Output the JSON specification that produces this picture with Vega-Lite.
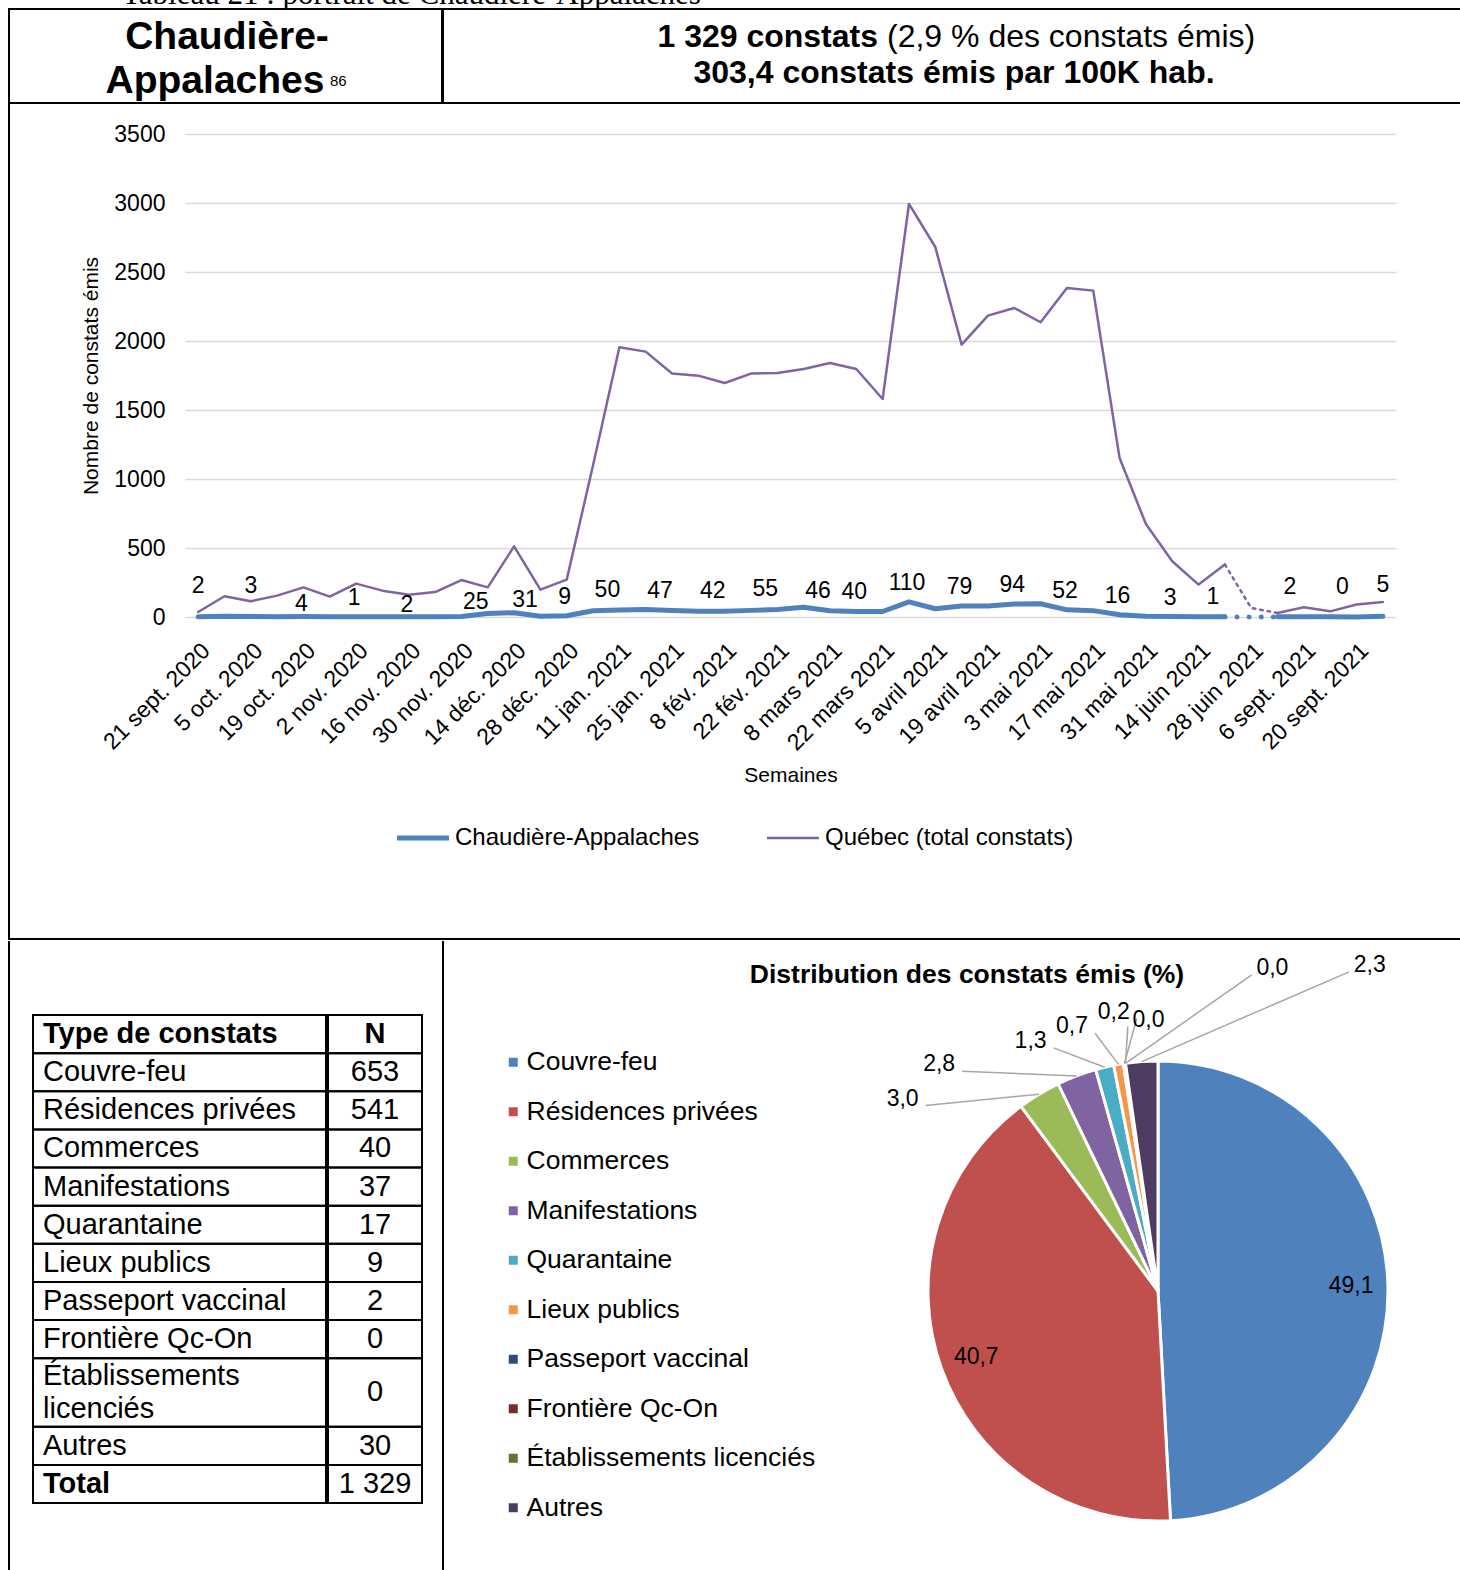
{
"$schema": "https://vega.github.io/schema/vega-lite/v6.json",
"background": "white",
"padding": {"left": 8, "top": 0, "right": 0, "bottom": 0},
"spacing": 0,
"resolve": {"scale": {"color": "independent", "x": "independent", "y": "independent"}, "legend": {"color": "independent"}},
"config": {
  "view": {"stroke": null},
  "font": "Liberation Sans",
  "text": {"font": "Liberation Sans", "color": "black"},
  "axis": {"labelFont": "Liberation Sans", "titleFont": "Liberation Sans"},
  "legend": {"labelFont": "Liberation Sans"},
  "title": {"font": "Liberation Sans"}
},
"datasets": {
  "semaines": [
    {"semaine":"21 sept. 2020","Chaudière-Appalaches":2,"Québec (total constats)":36},
    {"semaine":"28 sept. 2020","Chaudière-Appalaches":5,"Québec (total constats)":150},
    {"semaine":"5 oct. 2020","Chaudière-Appalaches":3,"Québec (total constats)":114},
    {"semaine":"12 oct. 2020","Chaudière-Appalaches":2,"Québec (total constats)":155},
    {"semaine":"19 oct. 2020","Chaudière-Appalaches":4,"Québec (total constats)":215},
    {"semaine":"26 oct. 2020","Chaudière-Appalaches":2,"Québec (total constats)":148},
    {"semaine":"2 nov. 2020","Chaudière-Appalaches":1,"Québec (total constats)":242},
    {"semaine":"9 nov. 2020","Chaudière-Appalaches":2,"Québec (total constats)":191},
    {"semaine":"16 nov. 2020","Chaudière-Appalaches":2,"Québec (total constats)":162},
    {"semaine":"23 nov. 2020","Chaudière-Appalaches":1,"Québec (total constats)":181},
    {"semaine":"30 nov. 2020","Chaudière-Appalaches":3,"Québec (total constats)":268},
    {"semaine":"7 déc. 2020","Chaudière-Appalaches":25,"Québec (total constats)":215},
    {"semaine":"14 déc. 2020","Chaudière-Appalaches":31,"Québec (total constats)":512},
    {"semaine":"21 déc. 2020","Chaudière-Appalaches":5,"Québec (total constats)":198},
    {"semaine":"28 déc. 2020","Chaudière-Appalaches":9,"Québec (total constats)":271},
    {"semaine":"4 jan. 2021","Chaudière-Appalaches":45,"Québec (total constats)":1100},
    {"semaine":"11 jan. 2021","Chaudière-Appalaches":50,"Québec (total constats)":1954},
    {"semaine":"18 jan. 2021","Chaudière-Appalaches":55,"Québec (total constats)":1923},
    {"semaine":"25 jan. 2021","Chaudière-Appalaches":47,"Québec (total constats)":1764},
    {"semaine":"1 fév. 2021","Chaudière-Appalaches":42,"Québec (total constats)":1749},
    {"semaine":"8 fév. 2021","Chaudière-Appalaches":42,"Québec (total constats)":1696},
    {"semaine":"15 fév. 2021","Chaudière-Appalaches":48,"Québec (total constats)":1764},
    {"semaine":"22 fév. 2021","Chaudière-Appalaches":55,"Québec (total constats)":1768},
    {"semaine":"1 mars 2021","Chaudière-Appalaches":70,"Québec (total constats)":1797},
    {"semaine":"8 mars 2021","Chaudière-Appalaches":46,"Québec (total constats)":1841},
    {"semaine":"15 mars 2021","Chaudière-Appalaches":40,"Québec (total constats)":1797},
    {"semaine":"22 mars 2021","Chaudière-Appalaches":40,"Québec (total constats)":1580},
    {"semaine":"29 mars 2021","Chaudière-Appalaches":110,"Québec (total constats)":2993},
    {"semaine":"5 avril 2021","Chaudière-Appalaches":60,"Québec (total constats)":2681},
    {"semaine":"12 avril 2021","Chaudière-Appalaches":79,"Québec (total constats)":1974},
    {"semaine":"19 avril 2021","Chaudière-Appalaches":80,"Québec (total constats)":2184},
    {"semaine":"26 avril 2021","Chaudière-Appalaches":94,"Québec (total constats)":2239},
    {"semaine":"3 mai 2021","Chaudière-Appalaches":96,"Québec (total constats)":2136},
    {"semaine":"10 mai 2021","Chaudière-Appalaches":52,"Québec (total constats)":2384},
    {"semaine":"17 mai 2021","Chaudière-Appalaches":46,"Québec (total constats)":2365},
    {"semaine":"24 mai 2021","Chaudière-Appalaches":16,"Québec (total constats)":1152},
    {"semaine":"31 mai 2021","Chaudière-Appalaches":5,"Québec (total constats)":674},
    {"semaine":"7 juin 2021","Chaudière-Appalaches":3,"Québec (total constats)":404},
    {"semaine":"14 juin 2021","Chaudière-Appalaches":2,"Québec (total constats)":235},
    {"semaine":"21 juin 2021","Chaudière-Appalaches":1,"Québec (total constats)":380},
    {"semaine":"28 juin 2021","Chaudière-Appalaches":0,"Québec (total constats)":65},
    {"semaine":"30 août 2021","Chaudière-Appalaches":1,"Québec (total constats)":29},
    {"semaine":"6 sept. 2021","Chaudière-Appalaches":2,"Québec (total constats)":70},
    {"semaine":"13 sept. 2021","Chaudière-Appalaches":1,"Québec (total constats)":41},
    {"semaine":"20 sept. 2021","Chaudière-Appalaches":0,"Québec (total constats)":90},
    {"semaine":"27 sept. 2021","Chaudière-Appalaches":5,"Québec (total constats)":109}
  ],
  "types": [
    {"type":"Couvre-feu","n":653},
    {"type":"Résidences privées","n":541},
    {"type":"Commerces","n":40},
    {"type":"Manifestations","n":37},
    {"type":"Quarantaine","n":17},
    {"type":"Lieux publics","n":9},
    {"type":"Passeport vaccinal","n":2},
    {"type":"Frontière Qc-On","n":0},
    {"type":"Établissements licenciés","n":0},
    {"type":"Autres","n":30}
  ]
},
"vconcat": [
  {"width": 1453, "height": 8,
   "data": {"values": [{"legende": "Tableau 21 : portrait de Chaudière-Appalaches"}]},
   "mark": {"type": "text", "clip": true, "font": "Liberation Serif", "fontSize": 31, "align": "left", "baseline": "alphabetic", "x": 113, "y": 4},
   "encoding": {"text": {"field": "legende"}}},
  {"hconcat": [
    {"width": 433, "height": 94, "view": {"stroke": "black", "strokeWidth": 2},
     "data": {"values": [{}]},
     "layer": [
       {"mark": {"type": "text", "text": "Chaudière-", "fontSize": 39, "fontWeight": "bold", "align": "center", "baseline": "middle", "x": 218, "y": 28}, "encoding": {}},
       {"mark": {"type": "text", "text": "Appalaches", "fontSize": 39, "fontWeight": "bold", "align": "center", "baseline": "middle", "x": 206, "y": 72}, "encoding": {}},
       {"mark": {"type": "text", "text": "86", "fontSize": 15, "align": "left", "baseline": "middle", "x": 321, "y": 72}, "encoding": {}}
     ]},
    {"width": 1020, "height": 94, "view": {"stroke": "black", "strokeWidth": 2},
     "data": {"values": [{}]},
     "layer": [
       {"mark": {"type": "text", "text": "1 329 constats", "fontSize": 32, "fontWeight": "bold", "align": "right", "baseline": "middle", "x": 435, "y": 28}, "encoding": {}},
       {"mark": {"type": "text", "text": "(2,9 % des constats émis)", "fontSize": 32, "align": "left", "baseline": "middle", "x": 444, "y": 28}, "encoding": {}},
       {"mark": {"type": "text", "text": "303,4 constats émis par 100K hab.", "fontSize": 32, "fontWeight": "bold", "align": "center", "baseline": "middle", "x": 511, "y": 64}, "encoding": {}}
     ]}
  ], "spacing": -2, "resolve": {"legend": {"color": "independent"}}},
  {"hconcat": [
    {"width": 0.01, "height": 832, "view": {"stroke": "black", "strokeWidth": 2}, "data": {"values": []}, "mark": {"type": "text", "text": ""}, "encoding": {}},
    {"width": 69, "height": 832, "data": {"values": []}, "mark": {"type": "text", "text": ""}, "encoding": {}},
    {"vconcat": [
      {"width": 1211, "height": 18, "data": {"values": []}, "mark": {"type": "text", "text": ""}, "encoding": {}},
      {"width": 1211, "height": 483,
       "data": {"name": "semaines"},
       "transform": [
         {"window": [{"op": "row_number", "as": "i"}]},
         {"fold": ["Chaudière-Appalaches", "Québec (total constats)"], "as": ["serie", "constats"]}
       ],
       "encoding": {
         "x": {"field": "semaine", "type": "ordinal",
               "scale": {"type": "point", "padding": 0.5, "domain": ["21 sept. 2020","28 sept. 2020","5 oct. 2020","12 oct. 2020","19 oct. 2020","26 oct. 2020","2 nov. 2020","9 nov. 2020","16 nov. 2020","23 nov. 2020","30 nov. 2020","7 déc. 2020","14 déc. 2020","21 déc. 2020","28 déc. 2020","4 jan. 2021","11 jan. 2021","18 jan. 2021","25 jan. 2021","1 fév. 2021","8 fév. 2021","15 fév. 2021","22 fév. 2021","1 mars 2021","8 mars 2021","15 mars 2021","22 mars 2021","29 mars 2021","5 avril 2021","12 avril 2021","19 avril 2021","26 avril 2021","3 mai 2021","10 mai 2021","17 mai 2021","24 mai 2021","31 mai 2021","7 juin 2021","14 juin 2021","21 juin 2021","28 juin 2021","30 août 2021","6 sept. 2021","13 sept. 2021","20 sept. 2021","27 sept. 2021"]},
               "axis": {"values": ["21 sept. 2020","5 oct. 2020","19 oct. 2020","2 nov. 2020","16 nov. 2020","30 nov. 2020","14 déc. 2020","28 déc. 2020","11 jan. 2021","25 jan. 2021","8 fév. 2021","22 fév. 2021","8 mars 2021","22 mars 2021","5 avril 2021","19 avril 2021","3 mai 2021","17 mai 2021","31 mai 2021","14 juin 2021","28 juin 2021","6 sept. 2021","20 sept. 2021"],
                        "labelAngle": -45, "labelFontSize": 23, "labelColor": "black", "labelPadding": 22, "labelOverlap": false, "labelBound": false,
                        "domain": false, "ticks": false, "grid": false,
                        "title": "Semaines", "titleFontSize": 21, "titleFontWeight": "normal", "titleColor": "black", "titlePadding": 10}},
         "y": {"field": "constats", "type": "quantitative",
               "scale": {"domain": [0, 3500], "nice": false},
               "axis": {"values": [0, 500, 1000, 1500, 2000, 2500, 3000, 3500], "format": "d",
                        "labelFontSize": 23, "labelColor": "black", "labelPadding": 20,
                        "domain": false, "ticks": false, "gridColor": "#d9d9d9", "gridWidth": 1.5,
                        "title": "Nombre de constats émis", "titleFontSize": 21, "titleFontWeight": "normal", "titleColor": "black", "titlePadding": 12}}
       },
       "layer": [
         {"transform": [
            {"filter": "datum.semaine !== '28 juin 2021'"},
            {"calculate": "datum.i <= 40 ? 'avant été' : 'après été'", "as": "periode"}
          ],
          "mark": {"type": "line", "strokeJoin": "round", "strokeCap": "round"},
          "encoding": {
            "color": {"field": "serie", "type": "nominal",
                      "scale": {"domain": ["Chaudière-Appalaches", "Québec (total constats)"], "range": ["#4f81bd", "#8064a2"]},
                      "legend": {"orient": "none", "legendX": 226, "legendY": 692, "direction": "horizontal", "title": null, "symbolType": "stroke", "symbolSize": 2704, "labelFontSize": 24, "labelColor": "black", "labelLimit": 500, "columnPadding": 62, "labelOffset": 20, "padding": 0,
                                 "encode": {"symbols": {"update": {"strokeWidth": {"signal": "datum.value === 'Chaudière-Appalaches' ? 5 : 2.5"}}}}}},
            "strokeWidth": {"field": "serie", "type": "nominal",
                      "scale": {"domain": ["Chaudière-Appalaches", "Québec (total constats)"], "range": [5, 2.5]},
                      "legend": null},
            "detail": {"field": "periode", "type": "nominal"}
          }},
         {"transform": [
            {"filter": {"field": "semaine", "oneOf": ["21 juin 2021", "28 juin 2021", "30 août 2021"]}},
            {"filter": {"field": "serie", "equal": "Chaudière-Appalaches"}}
          ],
          "mark": {"type": "line", "color": "#4f81bd", "strokeWidth": 5, "strokeDash": [0.1, 12], "strokeCap": "round"},
          "encoding": {}},
         {"transform": [
            {"filter": {"field": "semaine", "oneOf": ["21 juin 2021", "28 juin 2021", "30 août 2021"]}},
            {"filter": {"field": "serie", "equal": "Québec (total constats)"}}
          ],
          "mark": {"type": "line", "color": "#8064a2", "strokeWidth": 2.5, "strokeDash": [2.5, 5], "strokeCap": "round"},
          "encoding": {}},
         {"transform": [
            {"filter": {"field": "serie", "equal": "Chaudière-Appalaches"}},
            {"filter": {"field": "semaine", "oneOf": ["21 sept. 2020","5 oct. 2020","27 sept. 2021"]}}
          ],
          "mark": {"type": "text", "fontSize": 23, "baseline": "middle", "dy": -31, "color": "black"},
          "encoding": {"text": {"field": "constats", "type": "quantitative", "format": "d"}}},
         {"transform": [
            {"filter": {"field": "serie", "equal": "Chaudière-Appalaches"}},
            {"filter": {"field": "semaine", "oneOf": ["6 sept. 2021","20 sept. 2021"]}}
          ],
          "mark": {"type": "text", "fontSize": 23, "baseline": "middle", "dy": -30, "dx": -14, "color": "black"},
          "encoding": {"text": {"field": "constats", "type": "quantitative", "format": "d"}}},
         {"transform": [
            {"filter": {"field": "serie", "equal": "Chaudière-Appalaches"}},
            {"filter": {"field": "semaine", "oneOf": ["19 oct. 2020","16 nov. 2020"]}}
          ],
          "mark": {"type": "text", "fontSize": 23, "baseline": "middle", "dy": -12, "dx": -2, "color": "black"},
          "encoding": {"text": {"field": "constats", "type": "quantitative", "format": "d"}}},
         {"transform": [
            {"filter": {"field": "serie", "equal": "Chaudière-Appalaches"}},
            {"filter": {"field": "semaine", "equal": "7 déc. 2020"}}
          ],
          "mark": {"type": "text", "fontSize": 23, "baseline": "middle", "dy": -12, "dx": -12, "color": "black"},
          "encoding": {"text": {"field": "constats", "type": "quantitative", "format": "d"}}},
         {"transform": [
            {"filter": {"field": "serie", "equal": "Chaudière-Appalaches"}},
            {"filter": {"field": "semaine", "equal": "14 déc. 2020"}}
          ],
          "mark": {"type": "text", "fontSize": 23, "baseline": "middle", "dy": -13, "dx": 11, "color": "black"},
          "encoding": {"text": {"field": "constats", "type": "quantitative", "format": "d"}}},
         {"transform": [
            {"filter": {"field": "serie", "equal": "Chaudière-Appalaches"}},
            {"filter": {"field": "semaine", "oneOf": ["11 jan. 2021","25 jan. 2021","8 fév. 2021","22 fév. 2021","8 mars 2021","21 juin 2021"]}}
          ],
          "mark": {"type": "text", "fontSize": 23, "baseline": "middle", "dy": -20, "dx": -12, "color": "black"},
          "encoding": {"text": {"field": "constats", "type": "quantitative", "format": "d"}}},
         {"transform": [
            {"filter": {"field": "serie", "equal": "Chaudière-Appalaches"}},
            {"filter": {"field": "semaine", "oneOf": ["2 nov. 2020","28 déc. 2020","15 mars 2021","29 mars 2021","12 avril 2021","26 avril 2021","10 mai 2021","24 mai 2021","7 juin 2021"]}}
          ],
          "mark": {"type": "text", "fontSize": 23, "baseline": "middle", "dy": -19, "dx": -2, "color": "black"},
          "encoding": {"text": {"field": "constats", "type": "quantitative", "format": "d"}}}
       ]}
    ], "spacing": 0, "resolve": {"legend": {"color": "independent"}}}
  ], "spacing": 0, "resolve": {"legend": {"color": "independent"}}},
  {"width": 1453, "height": 0.01, "view": {"stroke": "black", "strokeWidth": 2}, "data": {"values": []}, "mark": {"type": "text", "text": ""}, "encoding": {}},
  {"hconcat": [
    {"width": 0.01, "height": 633, "view": {"stroke": "black", "strokeWidth": 2}, "data": {"values": []}, "mark": {"type": "text", "text": ""}, "encoding": {}},
    {"vconcat": [
      {"width": 431, "height": 72, "data": {"values": []}, "mark": {"type": "text", "text": ""}, "encoding": {}},
      {"hconcat": [
        {"width": 21, "height": 488, "data": {"values": []}, "mark": {"type": "text", "text": ""}, "encoding": {}},
        {"width": 293, "height": 488,
         "data": {"name": "types"},
         "transform": [
           {"calculate": "length(datum.type) > 20 ? 1.8 : 1", "as": "haut"},
           {"window": [{"op": "sum", "field": "haut", "as": "cumul"}], "frame": [null, 0]},
           {"calculate": "datum.cumul + 1", "as": "fin"},
           {"calculate": "datum.fin - datum.haut", "as": "debut"},
           {"calculate": "(datum.debut + datum.fin) / 2 - (datum.haut > 1 ? 0.43 : 0)", "as": "milieu"},
           {"calculate": "datum.haut > 1 ? split(datum.type, ' ') : datum.type", "as": "libelle"}
         ],
         "layer": [
           {"mark": {"type": "rect", "filled": false, "stroke": "black", "strokeWidth": 2},
            "encoding": {"x": {"value": 0}, "x2": {"value": "width"},
                         "y": {"field": "debut", "type": "quantitative", "scale": {"domain": [0, 12.8], "reverse": true, "nice": false, "zero": false}, "axis": null},
                         "y2": {"field": "fin"}}},
           {"mark": {"type": "text", "align": "left", "baseline": "middle", "fontSize": 29, "lineHeight": 33, "x": 10},
            "encoding": {"y": {"field": "milieu", "type": "quantitative"}, "text": {"field": "libelle"}}},
           {"transform": [{"aggregate": [{"op": "sum", "field": "n", "as": "total"}, {"op": "max", "field": "fin", "as": "debut"}]},
                          {"calculate": "datum.debut + 1", "as": "fin"},
                          {"calculate": "datum.debut + 0.5", "as": "milieu"}],
            "layer": [
              {"mark": {"type": "rect", "filled": false, "stroke": "black", "strokeWidth": 2},
               "encoding": {"x": {"value": 0}, "x2": {"value": "width"}, "y": {"field": "debut", "type": "quantitative"}, "y2": {"field": "fin"}}},
              {"mark": {"type": "text", "text": "Total", "fontWeight": "bold", "align": "left", "baseline": "middle", "fontSize": 29, "x": 10},
               "encoding": {"y": {"field": "milieu", "type": "quantitative"}}},
              {"mark": {"type": "rect", "filled": false, "stroke": "black", "strokeWidth": 2},
               "encoding": {"x": {"value": 0}, "x2": {"value": "width"}, "y": {"datum": 0, "type": "quantitative"}, "y2": {"datum": 1}}},
              {"mark": {"type": "text", "text": "Type de constats", "fontWeight": "bold", "align": "left", "baseline": "middle", "fontSize": 29, "x": 10},
               "encoding": {"y": {"datum": 0.5, "type": "quantitative"}}}
            ]}
         ]},
        {"width": 94, "height": 488,
         "data": {"name": "types"},
         "transform": [
           {"calculate": "length(datum.type) > 20 ? 1.8 : 1", "as": "haut"},
           {"window": [{"op": "sum", "field": "haut", "as": "cumul"}], "frame": [null, 0]},
           {"calculate": "datum.cumul + 1", "as": "fin"},
           {"calculate": "datum.fin - datum.haut", "as": "debut"},
           {"calculate": "(datum.debut + datum.fin) / 2", "as": "milieu"}
         ],
         "layer": [
           {"mark": {"type": "rect", "filled": false, "stroke": "black", "strokeWidth": 2},
            "encoding": {"x": {"value": 0}, "x2": {"value": "width"},
                         "y": {"field": "debut", "type": "quantitative", "scale": {"domain": [0, 12.8], "reverse": true, "nice": false, "zero": false}, "axis": null},
                         "y2": {"field": "fin"}}},
           {"mark": {"type": "text", "align": "center", "baseline": "middle", "fontSize": 29, "x": 47},
            "encoding": {"y": {"field": "milieu", "type": "quantitative"}, "text": {"field": "n", "type": "quantitative", "format": "d"}}},
           {"transform": [{"aggregate": [{"op": "sum", "field": "n", "as": "total"}, {"op": "max", "field": "fin", "as": "debut"}]},
                          {"calculate": "datum.debut + 1", "as": "fin"},
                          {"calculate": "datum.debut + 0.5", "as": "milieu"},
                          {"calculate": "replace(format(datum.total, ','), ',', ' ')", "as": "totalTexte"}],
            "layer": [
              {"mark": {"type": "rect", "filled": false, "stroke": "black", "strokeWidth": 2},
               "encoding": {"x": {"value": 0}, "x2": {"value": "width"}, "y": {"field": "debut", "type": "quantitative"}, "y2": {"field": "fin"}}},
              {"mark": {"type": "text", "align": "center", "baseline": "middle", "fontSize": 29, "x": 47},
               "encoding": {"y": {"field": "milieu", "type": "quantitative"}, "text": {"field": "totalTexte"}}},
              {"mark": {"type": "rect", "filled": false, "stroke": "black", "strokeWidth": 2},
               "encoding": {"x": {"value": 0}, "x2": {"value": "width"}, "y": {"datum": 0, "type": "quantitative"}, "y2": {"datum": 1}}},
              {"mark": {"type": "text", "text": "N", "fontWeight": "bold", "align": "center", "baseline": "middle", "fontSize": 29, "x": 47},
               "encoding": {"y": {"datum": 0.5, "type": "quantitative"}}}
            ]}
         ]}
      ], "spacing": 0},
      {"width": 431, "height": 69, "data": {"values": []}, "mark": {"type": "text", "text": ""}, "encoding": {}}
    ], "spacing": 0},
    {"width": 0.01, "height": 633, "view": {"stroke": "black", "strokeWidth": 2}, "data": {"values": []}, "mark": {"type": "text", "text": ""}, "encoding": {}},
    {"width": 1018, "height": 633,
     "data": {"name": "types"},
     "transform": [
       {"window": [{"op": "row_number", "as": "rang"}, {"op": "sum", "field": "n", "as": "cumul"}], "frame": [null, 0]},
       {"joinaggregate": [{"op": "sum", "field": "n", "as": "total"}]},
       {"calculate": "100 * datum.n / datum.total", "as": "pct"},
       {"calculate": "replace(format(datum.pct, '.1f'), '.', ',')", "as": "etiquette"},
       {"calculate": "2 * PI * (datum.cumul - datum.n / 2) / datum.total", "as": "milieu"},
       {"calculate": "sin(datum.milieu)", "as": "bordX"},
       {"calculate": "cos(datum.milieu)", "as": "bordY"}
     ],
     "layer": [
       {"mark": {"type": "arc", "stroke": "white", "strokeWidth": 3, "outerRadius": 230},
        "encoding": {
          "x": {"datum": 0, "type": "quantitative", "scale": {"domain": [-3.1, 1.3261], "nice": false, "zero": false}, "axis": null},
          "y": {"datum": 0, "type": "quantitative", "scale": {"domain": [-1.2348, 1.5174], "nice": false, "zero": false}, "axis": null},
          "theta": {"field": "n", "type": "quantitative", "stack": true},
          "order": {"field": "rang", "type": "quantitative"},
          "color": {"field": "type", "type": "nominal",
                    "scale": {"domain": ["Couvre-feu","Résidences privées","Commerces","Manifestations","Quarantaine","Lieux publics","Passeport vaccinal","Frontière Qc-On","Établissements licenciés","Autres"],
                              "range": ["#4f81bd","#c0504d","#9bbb59","#8064a2","#4bacc6","#f79646","#2c4d75","#772c2a","#5f7530","#4d3b62"]},
                    "legend": {"orient": "none", "legendX": 55, "legendY": 107, "direction": "vertical", "title": null, "symbolType": "square", "symbolSize": 81, "symbolStrokeWidth": 0, "labelFontSize": 26.5, "labelColor": "black", "labelLimit": 500, "rowPadding": 22.5, "labelOffset": 0, "padding": 0}}
        }},
       {"data": {"values": [{}]},
        "mark": {"type": "text", "text": "Distribution des constats émis (%)", "fontSize": 26.5, "fontWeight": "bold", "align": "center", "baseline": "middle", "x": 522, "y": 33},
        "encoding": {}},
       {"transform": [{"filter": "datum.pct >= 10"},
                      {"calculate": "0.84 * datum.bordX", "as": "intX"},
                      {"calculate": "0.84 * datum.bordY", "as": "intY"}],
        "mark": {"type": "text", "fontSize": 23, "align": "center", "baseline": "middle"},
        "encoding": {
          "x": {"field": "intX", "type": "quantitative"},
          "y": {"field": "intY", "type": "quantitative"},
          "text": {"field": "etiquette"}
        }},
       {"transform": [{"filter": "datum.pct < 10"},
                      {"calculate": "datum.rang - 3", "as": "k"},
                      {"calculate": "[307, 316, 333, 342, 351, 358, 379.5, 393][datum.k] * PI / 180", "as": "angEt"},
                      {"calculate": "[1.39, 1.37, 1.22, 1.21, 1.23, 1.18, 1.49, 1.69][datum.k]", "as": "rEt"},
                      {"calculate": "datum.rEt * sin(datum.angEt)", "as": "etX"},
                      {"calculate": "datum.rEt * cos(datum.angEt)", "as": "etY"},
                      {"calculate": "datum.etX + (datum.etX < datum.bordX ? 0.1 : -0.09)", "as": "traitX"},
                      {"calculate": "datum.etY - 0.03", "as": "traitY"}],
        "layer": [
          {"mark": {"type": "rule", "color": "#a6a6a6", "strokeWidth": 1.5},
           "encoding": {"x": {"field": "bordX", "type": "quantitative"}, "y": {"field": "bordY", "type": "quantitative"}, "x2": {"field": "traitX"}, "y2": {"field": "traitY"}}},
          {"mark": {"type": "text", "fontSize": 23, "align": "center", "baseline": "middle"},
           "encoding": {"x": {"field": "etX", "type": "quantitative"}, "y": {"field": "etY", "type": "quantitative"}, "text": {"field": "etiquette"}}}
        ]}
     ]}
  ], "spacing": 0, "resolve": {"scale": {"color": "independent", "x": "independent", "y": "independent"}, "legend": {"color": "independent"}}}
]
}
